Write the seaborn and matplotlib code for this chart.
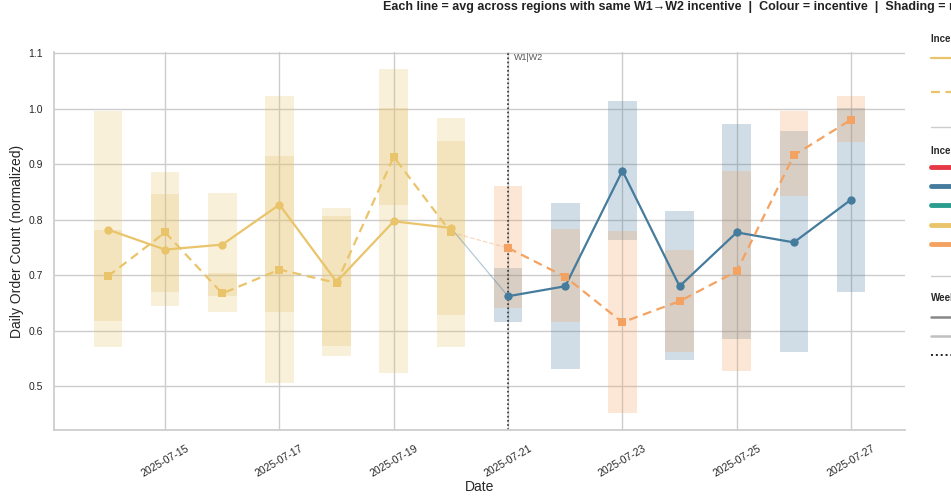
import matplotlib
matplotlib.use("Agg")
import numpy as np
import pandas as pd
import matplotlib.pyplot as plt
import matplotlib.dates as mdates
from matplotlib.lines import Line2D
import seaborn as sns

# ---------------- data ----------------
dates = ["2025-07-14", "2025-07-15", "2025-07-16", "2025-07-17", "2025-07-18",
         "2025-07-19", "2025-07-20", "2025-07-21", "2025-07-22", "2025-07-23",
         "2025-07-24", "2025-07-25", "2025-07-26", "2025-07-27"]
weeks = ["W1"] * 7 + ["W2"] * 7

# path A: Yellow -> Blue (solid, circles)
path_a_mean = [0.782, 0.746, 0.755, 0.827, 0.688, 0.797, 0.785,
               0.662, 0.680, 0.888, 0.680, 0.777, 0.759, 0.836]
path_a_lo = [0.618, 0.645, 0.634, 0.633, 0.572, 0.523, 0.570,
             0.615, 0.531, 0.764, 0.547, 0.585, 0.561, 0.670]
path_a_hi = [0.995, 0.846, 0.848, 1.023, 0.821, 1.001, 0.942,
             0.712, 0.830, 1.014, 0.815, 0.973, 0.959, 1.002]
path_a_w1, path_a_w2 = "Yellow", "Blue"

# path B: Yellow -> Orange (dashed, squares)
path_b_mean = [0.698, 0.777, 0.667, 0.710, 0.686, 0.913, 0.777,
               0.749, 0.697, 0.615, 0.653, 0.707, 0.916, 0.980]
path_b_lo = [0.570, 0.670, 0.662, 0.505, 0.554, 0.827, 0.628,
             0.640, 0.616, 0.452, 0.562, 0.527, 0.842, 0.939]
path_b_hi = [0.782, 0.886, 0.703, 0.915, 0.807, 1.071, 0.983,
             0.861, 0.783, 0.780, 0.746, 0.888, 0.995, 1.022]
path_b_w1, path_b_w2 = "Yellow", "Orange"

incentives = ["Red", "Blue", "Teal", "Yellow", "Orange"]
incentive_colours = ["#E63946", "#457B9D", "#2A9D8F", "#E9C46A", "#F4A261"]
pal = dict(zip(incentives, incentive_colours))

title_text = ("Each line = avg across regions with same W1\u2192W2 incentive  |  "
              "Colour = incentive  |  Shading = min\u2013max range across regions")

# ---------------- build frame ----------------
d = pd.to_datetime(dates)
rows = []
for path, mean, lo, hi, c1, c2 in [("A", path_a_mean, path_a_lo, path_a_hi, path_a_w1, path_a_w2),
                                   ("B", path_b_mean, path_b_lo, path_b_hi, path_b_w1, path_b_w2)]:
    for i in range(len(dates)):
        inc = c1 if weeks[i] == "W1" else c2
        rows.append(dict(date=d[i], week=weeks[i], path=path, value=mean[i],
                         lo=lo[i], hi=hi[i], incentive=inc,
                         seg=f"{path}-{weeks[i]}"))
df = pd.DataFrame(rows)

# ---------------- figure ----------------
sns.set_theme(style="whitegrid")
plt.rcParams["font.family"] = ["Liberation Sans", "DejaVu Sans"]

fig = plt.figure(figsize=(9.51, 4.99), dpi=100)
ax = fig.add_axes([54 / 951, 1 - 430 / 499, (905 - 54) / 951, (430 - 52) / 499])

# shading bars
for _, r in df.iterrows():
    ax.bar(r["date"], r["hi"] - r["lo"], bottom=r["lo"], width=0.5,
           color=pal[r["incentive"]], alpha=0.25, linewidth=0, zorder=1)

# transition segments (faded)
for path, ls, col in [("A", "-", pal[path_a_w2]), ("B", "--", pal[path_b_w2])]:
    sub = df[df["path"] == path]
    trans = pd.concat([sub[sub["week"] == "W1"].tail(1), sub[sub["week"] == "W2"].head(1)])
    sns.lineplot(data=trans, x="date", y="value", color=col, linestyle=ls,
                 linewidth=0.9, alpha=0.4, ax=ax, legend=False, estimator=None)

seg_pal = {"A-W1": pal[path_a_w1], "A-W2": pal[path_a_w2],
           "B-W1": pal[path_b_w1], "B-W2": pal[path_b_w2]}
sns.lineplot(data=df, x="date", y="value", hue="seg", style="path",
             palette=seg_pal, dashes={"A": "", "B": (4, 2.5)},
             markers={"A": "o", "B": "s"}, markersize=6, markeredgewidth=0,
             linewidth=1.6, units="seg", estimator=None, ax=ax, legend=False,
             zorder=3)

# week boundary
ax.axvline(d[weeks.index("W2")], color="#333333", linestyle=(0, (1, 1.5)),
           linewidth=1.2, zorder=2)
ax.annotate("W1|W2", xy=(d[weeks.index("W2")], 1.0), xycoords=("data", "axes fraction"),
            xytext=(4, -1), textcoords="offset points", ha="left", va="top",
            fontsize=6.5, color="#555555")

ax.set_xlim(d[0] - pd.Timedelta(days=0.944), d[-1] + pd.Timedelta(days=0.944))
ax.set_ylim(0.421, 1.102)
ax.set_yticks([0.5, 0.6, 0.7, 0.8, 0.9, 1.0, 1.1])
ax.xaxis.set_major_locator(mdates.DayLocator(bymonthday=range(15, 28, 2)))
ax.xaxis.set_major_formatter(mdates.DateFormatter("%Y-%m-%d"))
ax.tick_params(axis="x", rotation=30, labelsize=7.5, pad=3.5)
ax.tick_params(axis="y", labelsize=7.5, pad=2)
ax.set_xlabel("Date", fontsize=10, labelpad=1)
ax.set_ylabel("Daily Order Count (normalized)", fontsize=10, labelpad=3)
sns.despine(ax=ax)

fig.text(383 / 951, 1 - 1 / 499, title_text, ha="left", va="top",
         fontsize=9, fontweight="bold", color="#222222")

# legends (outside right, mostly clipped)
h1 = [Line2D([], [], color=pal[path_a_w1], lw=1.6),
      Line2D([], [], color=pal[path_a_w1], lw=1.6, dashes=(4, 2.5)),
      Line2D([], [], color="#cccccc", lw=1.0)]
l1 = [f"{path_a_w1} \u2192 {path_a_w2}\n(solid, circles)",
      f"{path_b_w1} \u2192 {path_b_w2}\n(dashed, squares)",
      "faded line =\nW1\u2192W2 link"]
h2 = [Line2D([], [], color=c, lw=3.5, solid_capstyle="round") for c in incentive_colours] + \
     [Line2D([], [], color="#cccccc", lw=1.0)]
l2 = incentives + ["\nbars = spread\nacross regions"]
h3 = [Line2D([], [], color="#888888", lw=1.8),
      Line2D([], [], color="#c0c0c0", lw=1.8),
      Line2D([], [], color="#222222", lw=1.4, linestyle=(0, (1, 1.5)))]
l3 = ["W1", "W2", "W1 | W2 boundary"]

common = dict(frameon=False, loc="upper left", fontsize=7, title_fontsize=7,
              alignment="left", handlelength=2.6, borderaxespad=0, borderpad=0)
leg1 = fig.legend(h1, l1, title="Incentive path (W1\u2192W2)", bbox_to_anchor=(931 / 951, 1 - 34 / 499),
                  labelspacing=1.3, **common)
leg1._legend_box.sep = 2.0
leg2 = fig.legend(h2, l2, title="Incentive (colour)", bbox_to_anchor=(931 / 951, 1 - 146 / 499),
                  labelspacing=0.95, **common)
leg2._legend_box.sep = 4.5
leg3 = fig.legend(h3, l3, title="Week", bbox_to_anchor=(931 / 951, 1 - 293 / 499),
                  labelspacing=0.95, **common)
for lg in (leg1, leg2, leg3):
    lg.get_title().set_fontweight("bold")

fig.savefig("out.png", dpi=100)
